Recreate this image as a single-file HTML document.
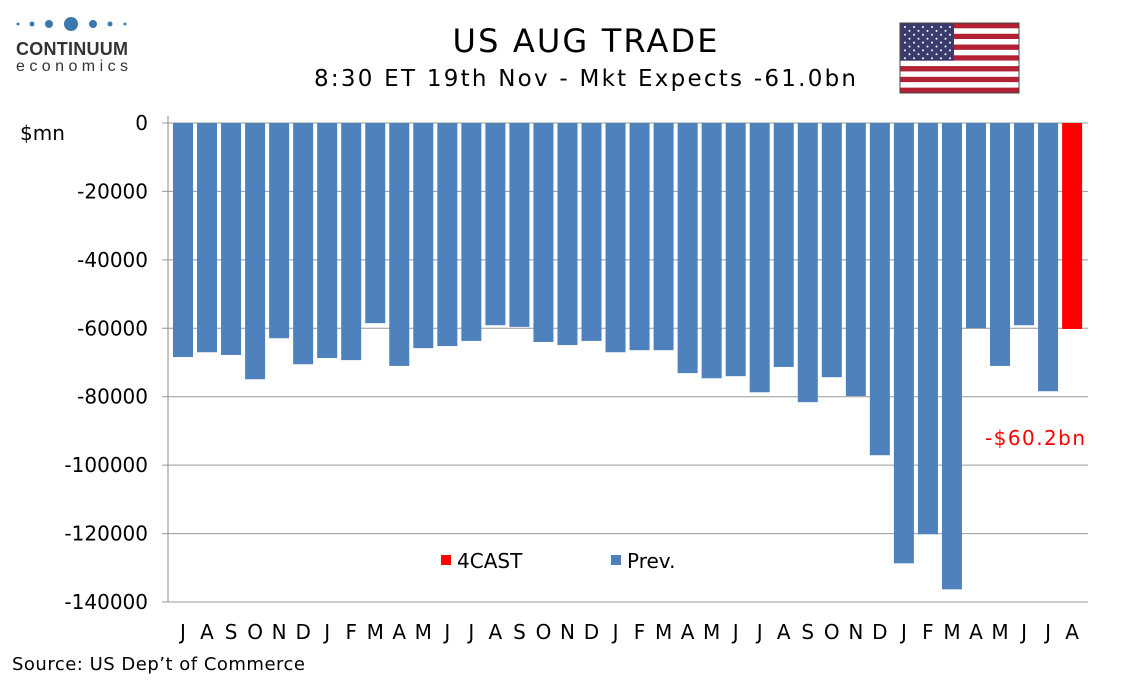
<!DOCTYPE html>
<html><head><meta charset="utf-8"><style>
body{margin:0;background:#fff;width:1134px;height:680px;overflow:hidden;font-family:"DejaVu Sans",sans-serif}
svg text{font-family:"DejaVu Sans",sans-serif}
</style></head><body>
<svg id="c" width="1134" height="680">
<g>
<circle cx="18" cy="24" r="1.5" fill="#3a78b0"/><circle cx="32" cy="24" r="2.5" fill="#3a78b0"/><circle cx="49" cy="24" r="4" fill="#3a78b0"/><circle cx="71" cy="24" r="7" fill="#3a78b0"/><circle cx="93" cy="24" r="4" fill="#3a78b0"/><circle cx="110" cy="24" r="2.5" fill="#3a78b0"/><circle cx="125" cy="24" r="1.5" fill="#3a78b0"/>
<text x="16" y="55" font-size="18" font-weight="bold" fill="#333" textLength="112" style="font-family:'Liberation Sans',sans-serif">CONTINUUM</text>
<text x="16" y="71" font-size="16" fill="#333" textLength="112" style="font-family:'Liberation Sans',sans-serif">economics</text>
</g>
<text x="585" y="52" font-size="32" text-anchor="middle" fill="#000" textLength="265">US AUG TRADE</text>
<text x="585" y="86" font-size="23" text-anchor="middle" fill="#000" textLength="542">8:30 ET 19th Nov - Mkt Expects -61.0bn</text>
<g id="flag"></g>
<text x="20" y="140" font-size="20" fill="#000">$mn</text>
<g id="grid"></g><g id="bars"></g><g id="xl"></g>
<line x1="168" y1="116" x2="168" y2="602" stroke="#888"/>
<text x="985" y="445" font-size="20" fill="#f00" textLength="100">-$60.2bn</text>
<g>
<rect x="441" y="555" width="10" height="10" fill="#f00"/><text x="457" y="568" font-size="20">4CAST</text>
<rect x="611" y="555" width="10" height="10" fill="#4f81bd"/><text x="627" y="568" font-size="20">Prev.</text>
</g>
<text x="12" y="670" font-size="18" fill="#000" textLength="293">Source: US Dep’t of Commerce</text>
</svg>
<script>
const months=["J","A","S","O","N","D","J","F","M","A","M","J","J","A","S","O","N","D","J","F","M","A","M","J","J","A","S","O","N","D","J","F","M","A","M","J","J","A"];
const values=[-68400,-67000,-67800,-74900,-62900,-70500,-68700,-69300,-58500,-71000,-65800,-65200,-63700,-59100,-59600,-64000,-64900,-63700,-67000,-66400,-66400,-73100,-74600,-74000,-78700,-71300,-81600,-74300,-79800,-97100,-128700,-120200,-136300,-60000,-71000,-59100,-78400,-60200];
const ticks=[0,-20000,-40000,-60000,-80000,-100000,-120000,-140000];
const NS="http://www.w3.org/2000/svg";
const y=v=>123+(-v)/140000*479;
const x=i=>183+i*24.03;
function mk(t,a,p){const e=document.createElementNS(NS,t);for(const k in a)e.setAttribute(k,a[k]);p.appendChild(e);return e;}
const g=document.getElementById('grid');
ticks.forEach(t=>{
 const l=mk('line',{x1:162,x2:1088,y1:y(t),y2:y(t),stroke:'#999','stroke-width':1},g);
 
 
 const tx=mk('text',{x:148,y:y(t)+7,'font-size':20,'text-anchor':'end'},g);tx.textContent=t;
 
 
});
const b=document.getElementById('bars'),xl=document.getElementById('xl');
values.forEach((v,i)=>{
 const last=i===values.length-1;
 const r=mk('rect',{x:x(i)-10,y:y(0),width:20,height:y(v)-y(0),fill:last?'#f00':'#4f81bd'},b);
 
 
 const t=mk('text',{x:x(i),y:639,'font-size':20,'text-anchor':'middle'},xl);t.textContent=months[i];
 
 
});
const f=document.getElementById('flag');
for(let s=0;s<13;s++)mk('rect',{x:900,y:23+s*70/13,width:119,height:70/13,fill:s%2?'#fff':'#b22234'},f);
mk('rect',{x:900,y:23,width:54,height:70*7/13,fill:'#3c3b6e'},f);
for(let r=0;r<9;r++)for(let c=0;c<(r%2?5:6);c++)mk('circle',{cx:905+c*9+(r%2?4.5:0),cy:27+r*3.9,r:1,fill:'#fff'},f);
mk('rect',{x:900,y:23,width:119,height:70,fill:'none',stroke:'#444'},f);
</script>
</body></html>
